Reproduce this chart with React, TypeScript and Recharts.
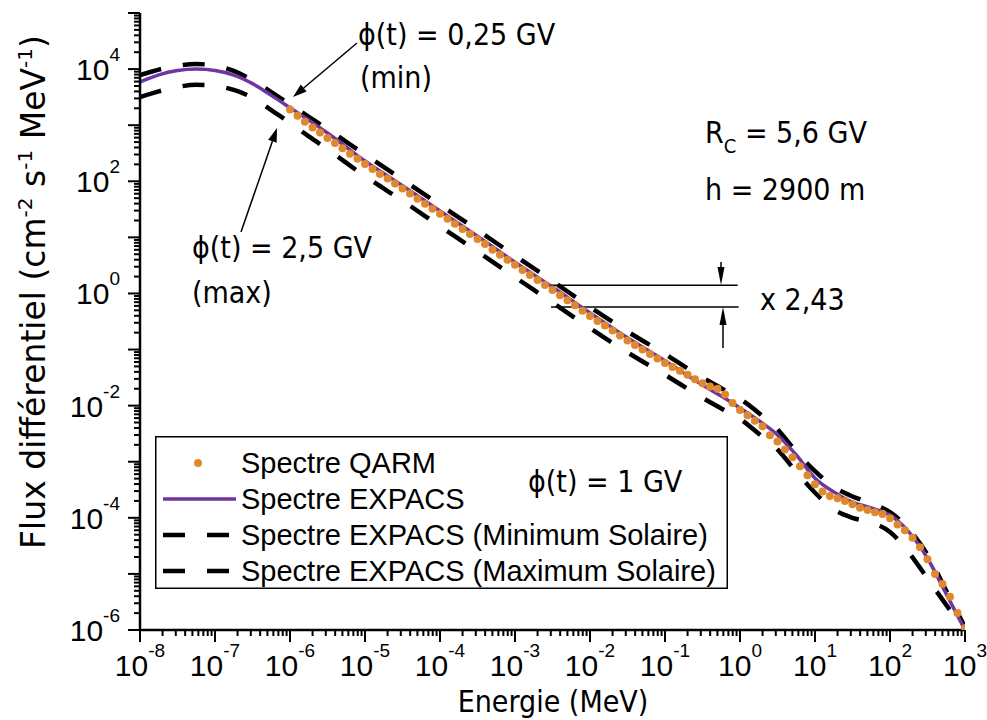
import React from 'react';
import { ComposedChart, Line, Scatter, XAxis, YAxis, Legend, ReferenceLine } from 'recharts';

// Energy grid (MeV) for the EXPACS spectra
const ENERGY_GRID = [
  1e-8, 1.78e-8, 3.16e-8, 5.62e-8, 1e-7, 1.78e-7, 3.16e-7, 5.62e-7, 1e-6, 1.78e-6, 3.16e-6,
  1e-5, 3.16e-5, 1e-4, 3.16e-4, 1e-3, 3.16e-3, 1e-2, 3.16e-2, 0.1, 0.316, 0.562, 1, 1.78,
  3.16, 5.62, 10, 17.8, 31.6, 56.2, 100, 178, 316, 562, 1000,
];

// Differential flux (cm-2 s-1 MeV-1), phi(t) = 1 GV
const FLUX_EXPACS = [
  5.9e3, 7.9e3, 9.4e3, 1.0e4, 9.4e3, 7.8e3, 5.5e3, 3.4e3, 2.05e3, 1.23e3, 725,
  230, 83, 29.5, 10.5, 3.6, 1.3, 0.45, 0.162, 0.063, 0.0234, 0.0148, 0.0091, 0.0054,
  0.003, 0.00132, 5.1e-4, 2.9e-4, 1.9e-4, 1.5e-4, 1.12e-4, 5.6e-5, 1.9e-5, 4.4e-6, 1.0e-6,
];

// Solar minimum, phi(t) = 0.25 GV
const FLUX_EXPACS_MIN = [
  7.8e3, 9.8e3, 1.15e4, 1.23e4, 1.15e4, 9.3e3, 6.3e3, 3.9e3, 2.35e3, 1.41e3, 850,
  300, 107, 38, 13.5, 4.7, 1.66, 0.575, 0.21, 0.083, 0.0316, 0.0204, 0.0132, 0.0074,
  0.0038, 0.00151, 6.8e-4, 3.55e-4, 2.4e-4, 1.82e-4, 1.26e-4, 6.3e-5, 2.2e-5, 5.0e-6, 1.12e-6,
];

// Solar maximum, phi(t) = 2.5 GV
const FLUX_EXPACS_MAX = [
  3.16e3, 4.0e3, 4.8e3, 5.25e3, 5.0e3, 4.25e3, 3.1e3, 1.86e3, 1.1e3, 630, 372,
  123, 45, 15.8, 5.6, 1.95, 0.69, 0.24, 0.089, 0.0355, 0.0138, 0.0089, 0.0058, 0.00316,
  0.00166, 6.6e-4, 2.8e-4, 1.41e-4, 1.0e-4, 8.3e-5, 5.6e-5, 2.4e-5, 8.3e-6, 2.8e-6, 1.0e-6,
];

// QARM spectrum bins (MeV)
const QARM_ENERGY = [
  1e-6, 1.26e-6, 1.58e-6, 2e-6, 2.51e-6, 3.16e-6, 3.98e-6, 5.01e-6, 6.31e-6, 7.94e-6,
  1e-5, 1.26e-5, 1.58e-5, 2e-5, 2.51e-5, 3.16e-5, 3.98e-5, 5.01e-5, 6.31e-5, 7.94e-5,
  1e-4, 1.26e-4, 1.58e-4, 2e-4, 2.51e-4, 3.16e-4, 3.98e-4, 5.01e-4, 6.31e-4, 7.94e-4,
  1e-3, 1.26e-3, 1.58e-3, 2e-3, 2.51e-3, 3.16e-3, 3.98e-3, 5.01e-3, 6.31e-3, 7.94e-3,
  1e-2, 1.26e-2, 1.58e-2, 2e-2, 2.51e-2, 3.16e-2, 3.98e-2, 5.01e-2, 6.31e-2, 7.94e-2,
  0.1, 0.126, 0.158, 0.2, 0.251, 0.316, 0.398, 0.501, 0.631, 0.794,
  1, 1.26, 1.58, 2, 2.51, 3.16, 3.98, 5.01, 6.31, 7.94,
  10, 12.6, 15.8, 20, 25.1, 31.6, 39.8, 50.1, 63.1, 79.4,
  100, 126, 158, 200, 251, 316, 398, 501, 631, 794,
  1000,
];

const QARM_FLUX = [
  1.9e3, 1.48e3, 1.15e3, 912, 741, 589, 479, 389, 309, 251,
  204, 166, 135, 112, 91.2, 74.1, 60.3, 49.0, 39.8, 32.4,
  26.3, 21.4, 17.4, 14.1, 11.5, 9.33, 7.59, 6.03, 4.9, 3.98,
  3.24, 2.63, 2.14, 1.74, 1.41, 1.15, 0.933, 0.759, 0.617, 0.49,
  0.398, 0.324, 0.269, 0.219, 0.178, 0.145, 0.12, 0.1, 0.0832, 0.0692,
  0.0575, 0.049, 0.0417, 0.0355, 0.0295, 0.0251, 0.0219, 0.02, 0.0158, 0.0112,
  0.00832, 0.00676, 0.00537, 0.00427, 0.00295, 0.00229, 0.00166, 0.0012, 8.32e-4, 5.75e-4,
  3.98e-4, 2.95e-4, 2.45e-4, 2.24e-4, 2.0e-4, 1.74e-4, 1.51e-4, 1.38e-4, 1.26e-4, 1.17e-4,
  9.8e-5, 7.6e-5, 6.0e-5, 4.4e-5, 3.0e-5, 1.82e-5, 1.0e-5, 6.6e-6, 3.9e-6, 2.0e-6,
  1.07e-6,
];

// Axis decades and labels
const X_DECADES = [-8, -7, -6, -5, -4, -3, -2, -1, 0, 1, 2, 3];
const Y_DECADES = [-6, -5, -4, -3, -2, -1, 0, 1, 2, 3, 4, 5];
const Y_LABELLED = [-6, -4, -2, 0, 2, 4];
const MINOR_STEPS = [2, 3, 4, 5, 6, 7, 8, 9];

// Min/max ratio marker
const RATIO_LEVEL = 1.4;
const RATIO = 2.43;
const RATIO_START = 2.8e-3;
const RATIO_END = 0.93;

const LEGEND_ITEMS = [
  { kind: 'dot', label: 'Spectre QARM' },
  { kind: 'line', label: 'Spectre EXPACS' },
  { kind: 'dash', label: 'Spectre EXPACS (Minimum Solaire)' },
  { kind: 'dash', label: 'Spectre EXPACS (Maximum Solaire)' },
];

const PURPLE = '#6E35A3';
const ORANGE = '#E0882E';
const SANS = "'Liberation Sans', Arial, sans-serif";
const COND = "'DejaVu Sans Condensed', 'DejaVu Sans', sans-serif";

const rows = (xs: number[], ys: number[]) => xs.map((e, i) => ({ energy: e, flux: ys[i] }));

const expacs = rows(ENERGY_GRID, FLUX_EXPACS);
const expacsMin = rows(ENERGY_GRID, FLUX_EXPACS_MIN);
const expacsMax = rows(ENERGY_GRID, FLUX_EXPACS_MAX);
const qarm = rows(QARM_ENERGY, QARM_FLUX);

const logTicks = (decades: number[]) => {
  const out: number[] = [];
  decades.forEach((d, i) => {
    out.push(Math.pow(10, d));
    if (i < decades.length - 1) MINOR_STEPS.forEach((m) => out.push(m * Math.pow(10, d)));
  });
  return out;
};

const xTicks = logTicks(X_DECADES);
const yTicks = logTicks(Y_DECADES);

const decadeOf = (v: number) => {
  const e = Math.log10(v);
  const r = Math.round(e);
  return { major: Math.abs(e - r) < 1e-6, exp: r };
};

const XTick = (props: any) => {
  const { x, y, payload } = props;
  const { major, exp } = decadeOf(payload.value);
  return (
    <g>
      <line x1={x} y1={y} x2={x} y2={y + (major ? 12 : 6)} stroke="#000" strokeWidth={2} />
      {major && (
        <text x={x} y={y + 46} textAnchor="middle" fontFamily={SANS} fontSize={30} fill="#000">
          10
          <tspan dy={-19} fontSize={19}>{exp}</tspan>
        </text>
      )}
    </g>
  );
};

const YTick = (props: any) => {
  const { x, y, payload } = props;
  const { major, exp } = decadeOf(payload.value);
  const labelled = major && Y_LABELLED.includes(exp);
  return (
    <g>
      <line x1={x} y1={y} x2={x - (major ? 12 : 6)} y2={y} stroke="#000" strokeWidth={2} />
      {labelled && (
        <text x={x - 20} y={y + 11} textAnchor="end" fontFamily={SANS} fontSize={30} fill="#000">
          10
          <tspan dy={-19} fontSize={19}>{exp}</tspan>
        </text>
      )}
    </g>
  );
};

const LegendBox = () => (
  <svg width={573} height={153} style={{ display: 'block' }}>
    <rect x={0.75} y={0.75} width={571.5} height={151.5} fill="#fff" stroke="#000" strokeWidth={1.5} />
    {LEGEND_ITEMS.map((item, i) => {
      const cy = 27 + i * 36;
      return (
        <g key={item.label}>
          {item.kind === 'dot' && <circle cx={43} cy={cy} r={4} fill={ORANGE} />}
          {item.kind === 'line' && <line x1={8} y1={cy} x2={81} y2={cy} stroke={PURPLE} strokeWidth={3.5} />}
          {item.kind === 'dash' && (
            <line x1={8} y1={cy} x2={80} y2={cy} stroke="#000" strokeWidth={4.5} strokeDasharray="22 22" />
          )}
          <text x={86} y={cy + 10} fontFamily={SANS} fontSize={29} fill="#000">{item.label}</text>
        </g>
      );
    })}
    <text x={373} y={56} fontFamily={COND} fontSize={30} fill="#000">ϕ(t) = 1 GV</text>
  </svg>
);

const Arrow = ({ x1, y1, x2, y2, head = 14, half = 4.5 }: any) => {
  const dx = x2 - x1;
  const dy = y2 - y1;
  const len = Math.hypot(dx, dy);
  const ux = dx / len;
  const uy = dy / len;
  const bx = x2 - ux * head;
  const by = y2 - uy * head;
  const pts = `${x2},${y2} ${bx - uy * half},${by + ux * half} ${bx + uy * half},${by - ux * half}`;
  return (
    <g>
      <line x1={x1} y1={y1} x2={bx} y2={by} stroke="#000" strokeWidth={1.5} />
      <polygon points={pts} fill="#000" />
    </g>
  );
};

const Annotations = () => (
  <svg
    width={987}
    height={720}
    style={{ position: 'absolute', left: 0, top: 0, pointerEvents: 'none' }}
  >
    <g fontFamily={COND} fontSize={30} fill="#000">
      <text x={358} y={45}>ϕ(t) = 0,25 GV</text>
      <text x={360} y={88}>(min)</text>
      <text x={192} y={258}>ϕ(t) = 2,5 GV</text>
      <text x={192} y={303}>(max)</text>
      <text x={705} y={143}>
        R<tspan dy={10} fontSize={20}>C</tspan>
        <tspan dy={-10}> = 5,6 GV</tspan>
      </text>
      <text x={705} y={200}>h = 2900 m</text>
      <text x={760} y={310}>x 2,43</text>
    </g>
    <Arrow x1={357} y1={43} x2={293} y2={97} />
    <Arrow x1={241} y1={232} x2={277} y2={128} />
    <Arrow x1={721} y1={262} x2={721} y2={285} head={18} half={3.5} />
    <Arrow x1={723} y1={348} x2={723} y2={307} head={18} half={3.5} />
    <text
      x={45}
      y={292}
      transform="rotate(-90 45 292)"
      textAnchor="middle"
      fontFamily="'DejaVu Sans', sans-serif"
      fontSize={33}
      fill="#000"
    >
      Flux différentiel (cm<tspan dy={-13} fontSize={20}>-2</tspan>
      <tspan dy={13}> s</tspan>
      <tspan dy={-13} fontSize={20}>-1</tspan>
      <tspan dy={13}> MeV</tspan>
      <tspan dy={-13} fontSize={20}>-1</tspan>
      <tspan dy={13}>)</tspan>
    </text>
    <text x={553} y={712} textAnchor="middle" fontFamily={COND} fontSize={30} fill="#000">
      Energie (MeV)
    </text>
  </svg>
);

export default function App() {
  return (
    <div style={{ position: 'absolute', left: 0, top: 0, width: 987, height: 720, background: '#fff' }}>
      <ComposedChart width={987} height={720} margin={{ top: 13, right: 22, bottom: 0, left: 0 }}>
        <XAxis
          dataKey="energy"
          type="number"
          scale="log"
          domain={[1e-8, 1e3]}
          allowDataOverflow
          ticks={xTicks}
          interval={0}
          tick={<XTick />}
          tickLine={false}
          tickSize={0}
          tickMargin={0}
          height={90}
          axisLine={{ stroke: '#000', strokeWidth: 2.5 }}
        />
        <YAxis
          dataKey="flux"
          type="number"
          scale="log"
          domain={[1e-6, 1e5]}
          allowDataOverflow
          ticks={yTicks}
          interval={0}
          tick={<YTick />}
          tickLine={false}
          tickSize={0}
          tickMargin={0}
          width={140}
          axisLine={{ stroke: '#000', strokeWidth: 2.5 }}
        />
        <ReferenceLine
          segment={[{ x: RATIO_START, y: RATIO_LEVEL }, { x: RATIO_END, y: RATIO_LEVEL }]}
          stroke="#000"
          strokeWidth={1.5}
        />
        <ReferenceLine
          segment={[{ x: RATIO_START * 1.08, y: RATIO_LEVEL / RATIO }, { x: RATIO_END * 1.03, y: RATIO_LEVEL / RATIO }]}
          stroke="#000"
          strokeWidth={1.5}
        />
        <Scatter
          name="Spectre QARM"
          data={qarm}
          dataKey="flux"
          fill={ORANGE}
          isAnimationActive={false}
          shape={(p: any) => <circle cx={p.cx} cy={p.cy} r={4} fill={ORANGE} />}
        />
        <Line
          name="Spectre EXPACS (Minimum Solaire)"
          data={expacsMin}
          dataKey="flux"
          type="monotone"
          stroke="#000"
          strokeWidth={4.5}
          strokeDasharray="22 22"
          dot={false}
          activeDot={false}
          isAnimationActive={false}
        />
        <Line
          name="Spectre EXPACS (Maximum Solaire)"
          data={expacsMax}
          dataKey="flux"
          type="monotone"
          stroke="#000"
          strokeWidth={4.5}
          strokeDasharray="22 22"
          dot={false}
          activeDot={false}
          isAnimationActive={false}
        />
        <Line
          name="Spectre EXPACS"
          data={expacs}
          dataKey="flux"
          type="monotone"
          stroke={PURPLE}
          strokeWidth={3.5}
          dot={false}
          activeDot={false}
          isAnimationActive={false}
        />
        <Legend
          layout="horizontal"
          verticalAlign="middle"
          align="center"
          wrapperStyle={{ left: 155, top: 436, width: 573, height: 153 }}
          content={() => <LegendBox />}
        />
      </ComposedChart>
      <Annotations />
    </div>
  );
}
